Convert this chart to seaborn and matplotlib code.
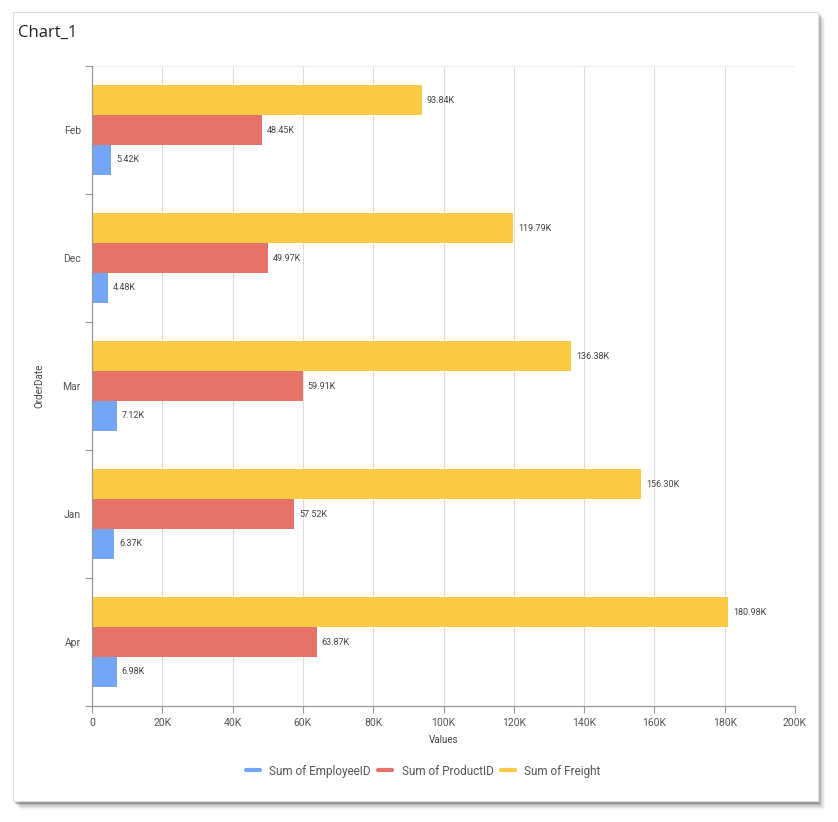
import pandas as pd
import matplotlib.pyplot as plt
import seaborn as sns
from matplotlib.patches import Rectangle
from matplotlib.lines import Line2D

months = ['Feb', 'Dec', 'Mar', 'Jan', 'Apr']
employee = [5420, 4480, 7120, 6370, 6980]
product = [48450, 49970, 59910, 57520, 63870]
freight = [93840, 119790, 136380, 156300, 180980]

series = ['Sum of Freight', 'Sum of ProductID', 'Sum of EmployeeID']
colors = {'Sum of EmployeeID': '#74A6F8',
          'Sum of ProductID': '#E6736A',
          'Sum of Freight': '#FBCB43'}
x_ticks = [0, 20000, 40000, 60000, 80000, 100000, 120000, 140000, 160000, 180000, 200000]
x_labels = ['0', '20K', '40K', '60K', '80K', '100K', '120K', '140K', '160K', '180K', '200K']

df = pd.DataFrame({
    'OrderDate': months * 3,
    'Series': ['Sum of Freight'] * 5 + ['Sum of ProductID'] * 5 + ['Sum of EmployeeID'] * 5,
    'Value': freight + product + employee,
})

sns.set_style('white')
plt.rcParams['font.family'] = ['Roboto', 'DejaVu Sans']

fig = plt.figure(figsize=(8.38, 8.22), dpi=100)
fig.patch.set_facecolor('white')

# card with a soft shadow
for i, a in enumerate([0.04, 0.06, 0.09, 0.13, 0.18]):
    off = (5 - i) * 0.0018
    fig.patches.append(Rectangle((0.016 + off, 0.024 - off), 0.96, 0.962,
                                 transform=fig.transFigure, facecolor='black',
                                 alpha=a, edgecolor='none', zorder=0))
fig.patches.append(Rectangle((0.016, 0.025), 0.96, 0.961, transform=fig.transFigure,
                             facecolor='white', edgecolor='#dddddd', lw=0.8, zorder=1))

ax = fig.add_axes([0.1098, 0.1411, 0.8389, 0.7786])
ax.set_zorder(2)
sns.barplot(data=df, y='OrderDate', x='Value', hue='Series', order=months,
            hue_order=series, palette=colors, width=0.7, orient='h',
            saturation=1, linewidth=0, ax=ax, legend=False)

for cont in ax.containers:
    labels = [f'{v / 1000:.2f}K' for v in cont.datavalues]
    ax.bar_label(cont, labels=labels, padding=3.5, fontsize=6.5, color='#444444')

ax.set_xlim(0, 200000)
ax.set_ylim(4.5, -0.5)
ax.set_xticks(x_ticks)
ax.set_xticklabels(x_labels, fontsize=7.5, color='#555555')
ax.grid(axis='x', color='#dedede', lw=0.8)
ax.set_axisbelow(True)

# category labels in the middle, tick marks between categories
ax.set_yticks([i - 0.5 for i in range(len(months) + 1)])
ax.set_yticklabels([])
ax.set_yticks(range(len(months)), minor=True)
ax.set_yticklabels(months, minor=True, fontsize=7.5, color='#555555')
ax.tick_params(axis='y', which='minor', length=0, pad=8)
ax.tick_params(axis='y', which='major', length=5, color='#999999', direction='out', left=True)
ax.tick_params(axis='x', length=5, color='#999999', direction='out', bottom=True)

for s in ['top', 'right']:
    ax.spines[s].set_visible(False)
for s in ['left', 'bottom']:
    ax.spines[s].set_color('#999999')
    ax.spines[s].set_linewidth(0.9)
ax.axhline(-0.5, color='#eeeeee', lw=1.5)

ax.set_xlabel('Values', fontsize=7, color='#444444', labelpad=5)
ax.set_ylabel('OrderDate', fontsize=7, color='#444444', labelpad=13)

fig.text(0.021, 0.96, 'Chart_1', fontsize=12, color='#222222', va='center',
         family=['Open Sans', 'DejaVu Sans'])

legend_order = ['Sum of EmployeeID', 'Sum of ProductID', 'Sum of Freight']
handles = [Line2D([0], [0], color=colors[s], lw=3) for s in legend_order]
fig.legend(handles, legend_order, loc='center', bbox_to_anchor=(0.505, 0.062),
           ncol=3, frameon=False, fontsize=8.5, labelcolor='#555555',
           handlelength=1.2, handletextpad=0.8, columnspacing=0.6)

fig.savefig('out.png', dpi=100)
